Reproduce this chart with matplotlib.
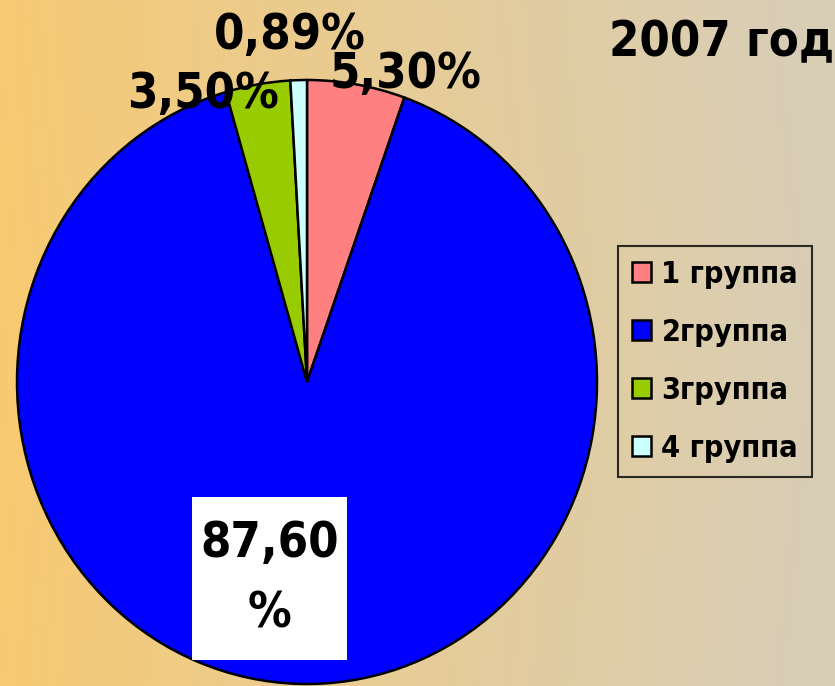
import numpy as np
import matplotlib
matplotlib.use("Agg")
import matplotlib.pyplot as plt

# data
groups = ["1 группа", "2группа", "3группа", "4 группа"]
shares = [5.30, 87.60, 3.50, 0.89]
share_labels = ["5,30%", "87,60\n%", "3,50%", "0,89%"]
colors = ["#FF8080", "#0000FF", "#99CC00", "#CCFFFF"]
title = "2007 год"

# where each value label sits (axes data units, pie radius = 1)
label_pos = [(0.34, 1.02), (-0.13, -0.65), (-0.36, 0.955), (-0.06, 1.15)]

W, H = 835, 686
fig = plt.figure(figsize=(W / 100, H / 100), dpi=100)

# background gradient, orange on the left to greyish beige on the right
bg = fig.add_axes([0, 0, 1, 1])
xs = np.linspace(0, 1, 200)
ys = np.linspace(0, 1, 160)
X, Y = np.meshgrid(xs, ys)
left = np.array([249, 202, 112]) / 255
right = np.array([216, 206, 182]) / 255
t = np.clip(X ** 0.9 + 0.08 * np.abs(Y - 0.55), 0, 1)[..., None]
img = left * (1 - t) + right * t
bg.imshow(img, extent=[0, 1, 0, 1], aspect="auto", origin="upper")
bg.axis("off")

ax = fig.add_axes([0, 0, 1, 1])
ax.patch.set_alpha(0)
wedges, _ = ax.pie(shares, colors=colors, startangle=90, counterclock=False,
                   wedgeprops=dict(edgecolor="black", linewidth=1.8))
ax.set_aspect("auto")
cx, cy, rx, ry = 307, 382, 290, 302
ax.set_xlim(-cx / rx, (W - cx) / rx)
ax.set_ylim(-(H - cy) / ry, cy / ry)
ax.axis("off")

font = dict(family="DejaVu Sans", weight="bold", stretch="condensed")
for i, (lab, (x, y)) in enumerate(zip(share_labels, label_pos)):
    kw = dict(ha="center", va="center", fontsize=35, color="black", **font)
    if i == 1:
        kw["bbox"] = dict(boxstyle="square,pad=0.17", fc="white", ec="none",
                          mutation_aspect=2.7)
        kw["linespacing"] = 1.58
    ax.text(x, y, lab, **kw)

fig.text(722 / W, 1 - 42 / H, title, ha="center", va="center", fontsize=35, **font)

leg = ax.legend(wedges, groups, loc="upper left",
                bbox_to_anchor=(618 / W, 1 - 246 / H), bbox_transform=fig.transFigure,
                prop=dict(family="DejaVu Sans", weight="bold", stretch="condensed", size=22),
                frameon=True, fancybox=False, handlelength=0.62, handleheight=0.62,
                handletextpad=0.35, labelspacing=0.95, borderpad=0.45, borderaxespad=0)
leg.get_frame().set_facecolor("none")
leg.get_frame().set_edgecolor("black")
leg.get_frame().set_linewidth(1.5)

fig.savefig("out.png", dpi=100)
